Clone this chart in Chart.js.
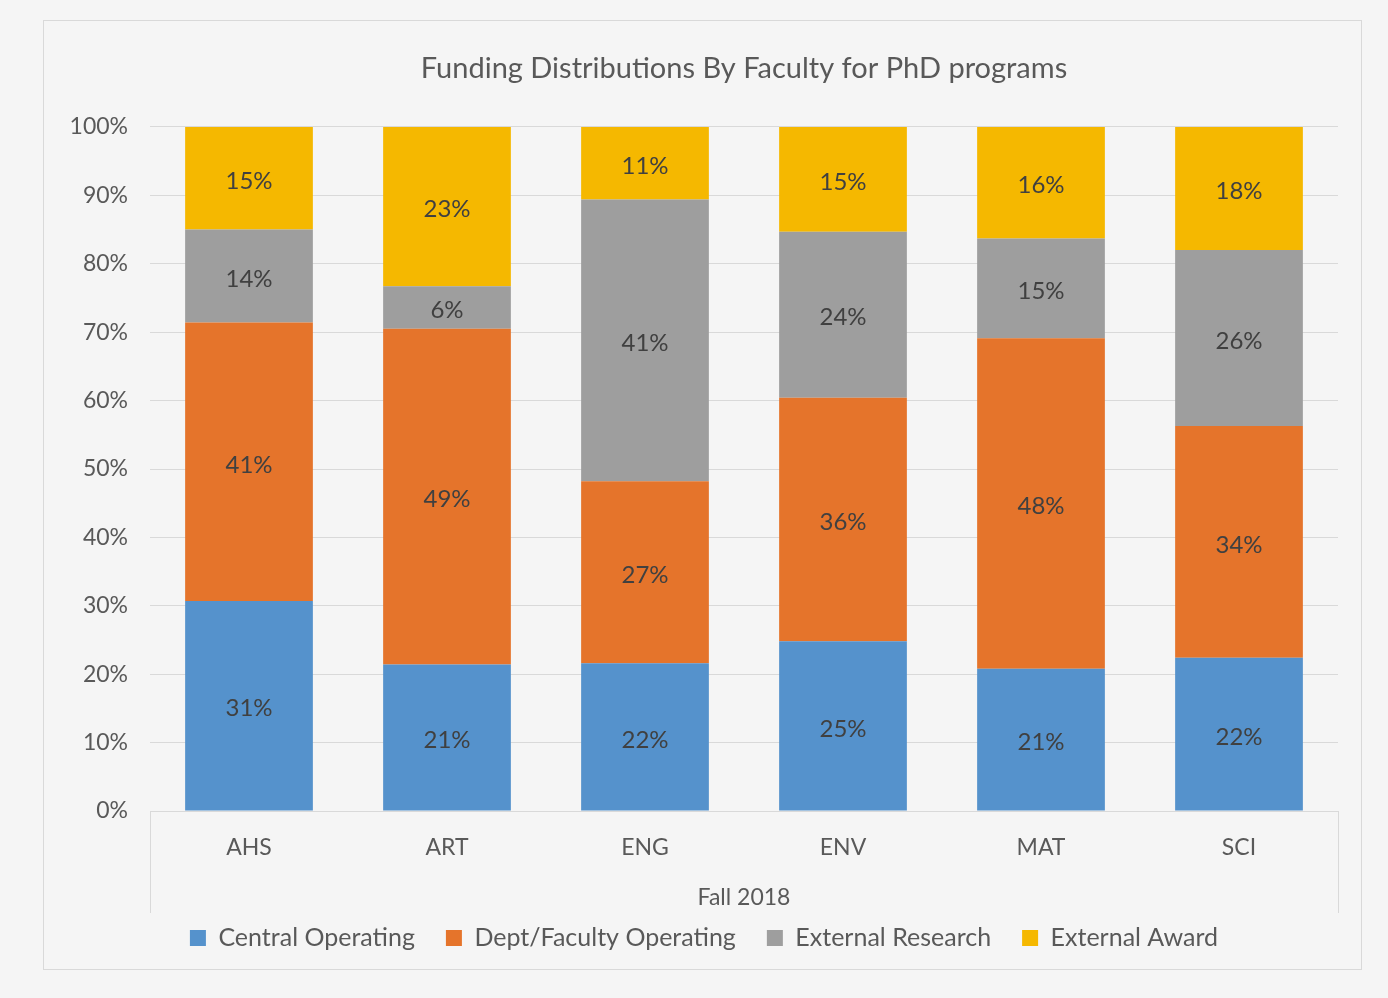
<!DOCTYPE html>
<html>
<head>
<meta charset="utf-8">
<script src="https://cdn.jsdelivr.net/npm/chart.js@4.4.1/dist/chart.umd.min.js"></script>
<style>
  html, body { margin: 0; padding: 0; background: #f5f5f5; }
  #wrap { width: 1388px; height: 998px; }
</style>
</head>
<body>
<div id="wrap"><canvas id="c" width="1388" height="998"></canvas></div>
<script>
const categories = ['AHS', 'ART', 'ENG', 'ENV', 'MAT', 'SCI'];
const seriesNames = ['Central Operating', 'Dept/Faculty Operating', 'External Research', 'External Award'];
const centralOperating   = [30.7, 21.4, 21.6, 24.8, 20.8, 22.4];
const deptFacultyOperating = [40.7, 49.1, 26.6, 35.6, 48.3, 33.9];
const externalResearch   = [13.6, 6.2, 41.2, 24.3, 14.6, 25.7];
const externalAward      = [15.0, 23.3, 10.6, 15.3, 16.3, 18.0];
const yTicks = [0, 10, 20, 30, 40, 50, 60, 70, 80, 90, 100];
const groupLabel = 'Fall 2018';
const chartTitle = 'Funding Distributions By Faculty for PhD programs';

const colors = ['#5592cc', '#e5742b', '#9e9e9e', '#f5b800'];
const FONT = 'Lato';

const bgPlugin = {
  id: 'bg',
  beforeDraw(chart) {
    const ctx = chart.ctx;
    ctx.save();
    ctx.fillStyle = '#f5f5f5';
    ctx.fillRect(0, 0, chart.width, chart.height);
    ctx.strokeStyle = '#d9d9d9';
    ctx.lineWidth = 1;
    ctx.strokeRect(43.5, 20.5, 1318, 949);
    ctx.restore();
  },
  afterDraw(chart) {
    const x = chart.scales.x;
    const ctx = chart.ctx;
    ctx.save();
    ctx.strokeStyle = '#d9d9d9';
    ctx.lineWidth = 1;
    ctx.beginPath();
    const b = chart.chartArea.bottom;
    [x.left, x.right].forEach(px => {
      const p = Math.round(px) + 0.5;
      ctx.moveTo(p, b);
      ctx.lineTo(p, b + 102);
    });
    ctx.stroke();
    ctx.restore();
  }
};

const labelPlugin = {
  id: 'barLabels',
  afterDatasetsDraw(chart) {
    const ctx = chart.ctx;
    ctx.save();
    ctx.font = '24px ' + FONT;
    ctx.fillStyle = '#404040';
    ctx.textAlign = 'center';
    ctx.textBaseline = 'middle';
    chart.data.datasets.forEach((ds, i) => {
      const meta = chart.getDatasetMeta(i);
      meta.data.forEach((el, j) => {
        const v = ds.data[j];
        ctx.fillText(Math.round(v) + '%', el.x, (el.y + el.base) / 2 + 3);
      });
    });
    ctx.restore();
  }
};

const seriesData = [centralOperating, deptFacultyOperating, externalResearch, externalAward];

new Chart(document.getElementById('c'), {
  type: 'bar',
  data: {
    labels: categories,
    datasets: seriesNames.map((n, i) => ({
      label: n,
      data: seriesData[i],
      backgroundColor: colors[i],
      borderWidth: 0,
      barPercentage: 1 / 1.55,
      categoryPercentage: 1
    }))
  },
  options: {
    responsive: false,
    animation: false,
    devicePixelRatio: 1,
    layout: { padding: { left: 70, right: 50, top: 0, bottom: 37.5 } },
    plugins: {
      title: {
        display: true,
        text: chartTitle,
        fullSize: false,
        color: '#595959',
        font: { family: FONT, size: 29, weight: 'normal' },
        padding: { top: 51.4, bottom: 40.8 }
      },
      legend: {
        position: 'bottom',
        labels: {
          boxWidth: 16,
          boxHeight: 16,
          padding: 31,
          color: '#595959',
          font: { family: FONT, size: 25 }
        }
      },
      tooltip: { enabled: false }
    },
    scales: {
      x: {
        stacked: true,
        grid: { display: false, drawTicks: false },
        border: { display: true, color: '#d9d9d9' },
        ticks: { color: '#595959', font: { family: FONT, size: 23 }, padding: 23 },
        title: {
          display: true,
          text: groupLabel,
          color: '#595959',
          font: { family: FONT, size: 23 },
          padding: { top: 0, bottom: -17.3 }
        },
        afterFit(s) { s.height = 83.5; }
      },
      y: {
        stacked: true,
        min: 0,
        max: 100,
        afterBuildTicks(s) { s.ticks = yTicks.map(v => ({ value: v })); },
        grid: { color: '#d9d9d9', drawTicks: false },
        border: { display: false },
        ticks: {
          color: '#595959',
          font: { family: FONT, size: 23 },
          padding: 22,
          callback: v => v + '%'
        },
        afterFit(s) { s.width = 80; }
      }
    }
  },
  plugins: [bgPlugin, labelPlugin]
});
</script>
</body>
</html>
